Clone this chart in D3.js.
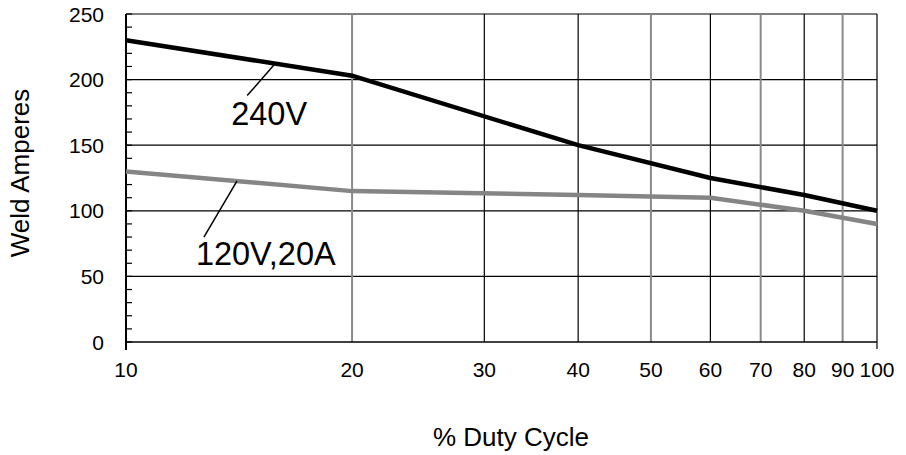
<!DOCTYPE html>
<html lang="en">
<head>
<meta charset="UTF-8">
<title>duty cycle</title>
<script src="https://cdn.jsdelivr.net/npm/d3@7"></script>
<style>
  body { margin: 0; background: #fff; }
  text { font-family: "Liberation Sans", Arial, sans-serif; fill: #000; }
</style>
</head>
<body>
<div id="root"></div>
<script>
// data
var duty = [10, 20, 40, 60, 80, 100]
var amps240 = [230, 203, 150, 125, 112, 100]
var duty120 = [10, 20, 40, 60, 80, 100]
var amps120 = [130, 115, 112, 110, 100, 90]
var xTicks = [10, 20, 30, 40, 50, 60, 70, 80, 90, 100]
var xGridDark = [30, 40, 60, 80]
var xGridGray = [20, 50, 70, 90]
var yTicks = [0, 50, 100, 150, 200, 250]
var yMinor = d3.range(0, 251, 10)

var width = 906, height = 455
// note: "top" is taken by window.top, so use other names
var pLeft = 126, pRight = 877, pTop = 14, pBottom = 342

var svg = d3.select('#root').append('svg')
    .attr('width', width)
    .attr('height', height)

var x = d3.scaleLog().domain([10, 100]).range([pLeft, pRight])
var y = d3.scaleLinear().domain([0, 250]).range([pBottom, pTop])

// horizontal grid
svg.selectAll('.hgrid')
    .data(yTicks.filter(function(d){ return d > 0 }))
    .enter().append('line')
    .attr('x1', pLeft).attr('x2', pRight)
    .attr('y1', function(d){ return y(d) }).attr('y2', function(d){ return y(d) })
    .attr('stroke', '#000').attr('stroke-width', 1.2)

// vertical grid
svg.selectAll('.vgray')
    .data(xGridGray)
    .enter().append('line')
    .attr('x1', function(d){ return x(d) }).attr('x2', function(d){ return x(d) })
    .attr('y1', pTop).attr('y2', pBottom)
    .attr('stroke', '#8a8a8a').attr('stroke-width', 2)

svg.selectAll('.vdark')
    .data(xGridDark)
    .enter().append('line')
    .attr('x1', function(d){ return x(d) }).attr('x2', function(d){ return x(d) })
    .attr('y1', pTop).attr('y2', pBottom)
    .attr('stroke', '#000').attr('stroke-width', 1.2)

// right border, runs past the axis like a tick
svg.append('line')
    .attr('x1', x(100)).attr('x2', x(100))
    .attr('y1', pTop).attr('y2', pBottom + 7)
    .attr('stroke', '#000').attr('stroke-width', 1.2)

// y axis with minor ticks on the inside
svg.append('line')
    .attr('x1', pLeft).attr('x2', pLeft)
    .attr('y1', pTop).attr('y2', pBottom + 8)
    .attr('stroke', '#000').attr('stroke-width', 2)

svg.selectAll('.minor')
    .data(yMinor)
    .enter().append('line')
    .attr('x1', pLeft).attr('x2', pLeft + 6)
    .attr('y1', function(d){ return y(d) }).attr('y2', function(d){ return y(d) })
    .attr('stroke', '#000').attr('stroke-width', 1.2)

// x axis
svg.append('line')
    .attr('x1', pLeft).attr('x2', pRight)
    .attr('y1', pBottom).attr('y2', pBottom)
    .attr('stroke', '#000').attr('stroke-width', 1.6)

// tick labels
svg.selectAll('.ylab')
    .data(yTicks)
    .enter().append('text')
    .attr('x', 104)
    .attr('y', function(d){ return y(d) })
    .attr('dy', '0.36em')
    .attr('text-anchor', 'end')
    .style('font-size', '21px')
    .text(function(d){ return d })

svg.selectAll('.xlab')
    .data(xTicks)
    .enter().append('text')
    .attr('x', function(d){ return x(d) })
    .attr('y', 377)
    .attr('text-anchor', 'middle')
    .style('font-size', '21px')
    .text(function(d){ return d })

// axis titles
svg.append('text')
    .attr('x', 511).attr('y', 446)
    .attr('text-anchor', 'middle')
    .style('font-size', '26px')
    .text('% Duty Cycle')

svg.append('text')
    .attr('transform', 'translate(29,173) rotate(-90)')
    .attr('text-anchor', 'middle')
    .style('font-size', '26px')
    .text('Weld Amperes')

// curves
var line = d3.line()
    .x(function(d){ return x(d[0]) })
    .y(function(d){ return y(d[1]) })

svg.append('path')
    .datum(d3.zip(duty120, amps120))
    .attr('d', line)
    .attr('fill', 'none')
    .attr('stroke', '#858585')
    .attr('stroke-width', 4.5)

svg.append('path')
    .datum(d3.zip(duty, amps240))
    .attr('d', line)
    .attr('fill', 'none')
    .attr('stroke', '#000')
    .attr('stroke-width', 4.5)

// callouts, anchored on the curves
function onCurve(xs, ys, v) {
    var i = d3.bisectRight(xs, v) - 1
    var t = (Math.log(v) - Math.log(xs[i])) / (Math.log(xs[i + 1]) - Math.log(xs[i]))
    return [x(v), y(ys[i] + t * (ys[i + 1] - ys[i]))]
}

var p240 = onCurve(duty, amps240, 15.8)
svg.append('line')
    .attr('x1', p240[0]).attr('y1', p240[1])
    .attr('x2', p240[0] - 28).attr('y2', p240[1] + 32)
    .attr('stroke', '#000').attr('stroke-width', 1.5)
svg.append('text')
    .attr('x', p240[0] - 44).attr('y', p240[1] + 61)
    .style('font-size', '32.5px')
    .text('240V')

var p120 = onCurve(duty120, amps120, 14.05)
svg.append('line')
    .attr('x1', p120[0]).attr('y1', p120[1])
    .attr('x2', p120[0] - 33).attr('y2', p120[1] + 56)
    .attr('stroke', '#000').attr('stroke-width', 1.5)
svg.append('text')
    .attr('x', p120[0] - 41).attr('y', p120[1] + 84)
    .style('font-size', '32.5px')
    .text('120V,20A')
</script>
</body>
</html>
